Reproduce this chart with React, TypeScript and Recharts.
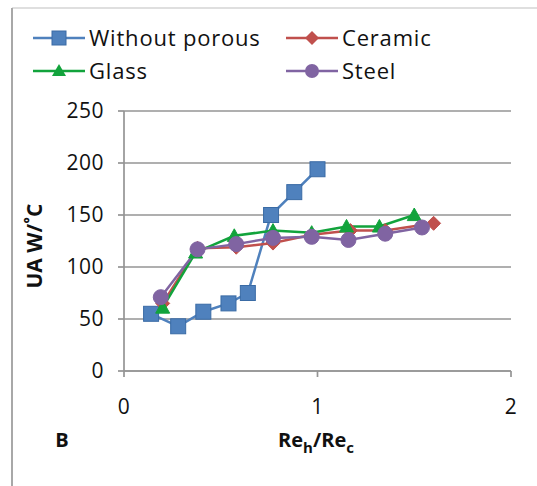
import React from "react";
import { LineChart, Line, XAxis, YAxis, CartesianGrid } from "recharts";

const seriesNames = ["Without porous", "Ceramic", "Glass", "Steel"];

const withoutX = [0.14, 0.28, 0.41, 0.54, 0.64, 0.76, 0.88, 1.0];
const withoutY = [55, 43, 57, 65, 75, 150, 172, 194];

const ceramicX = [0.2, 0.38, 0.58, 0.77, 0.97, 1.17, 1.35, 1.6];
const ceramicY = [65, 118, 119, 123, 131, 135, 135, 142];

const glassX = [0.2, 0.37, 0.57, 0.77, 0.97, 1.15, 1.32, 1.5];
const glassY = [61, 114, 130, 135, 133, 139, 139, 150];

const steelX = [0.19, 0.38, 0.58, 0.77, 0.97, 1.16, 1.35, 1.54];
const steelY = [71, 117, 122, 128, 129, 126, 132, 138];

const xTicks = [0, 1, 2];
const yTicks = [0, 50, 100, 150, 200, 250];

const toData = (xs: number[], ys: number[]) => xs.map((x, i) => ({ x, y: ys[i] }));

const withoutData = toData(withoutX, withoutY);
const ceramicData = toData(ceramicX, ceramicY);
const glassData = toData(glassX, glassY);
const steelData = toData(steelX, steelY);

const BLUE = "#4F81BD";
const RED = "#C0504D";
const GREEN = "#12A33C";
const PURPLE = "#8064A2";

const FONT = "'Open Sans', sans-serif";
const TEXT = "#111";

const SquareDot = (p: any) => {
  const { cx, cy, index } = p;
  if (cx == null || cy == null) return <g key={index} />;
  return <rect key={index} x={cx - 7.5} y={cy - 7.5} width={15} height={15} fill={BLUE} stroke="#3A6BA5" strokeWidth={1} />;
};
const DiamondDot = (p: any) => {
  const { cx, cy, index } = p;
  if (cx == null || cy == null) return <g key={index} />;
  const s = 7;
  return <polygon key={index} points={`${cx},${cy - s} ${cx + s},${cy} ${cx},${cy + s} ${cx - s},${cy}`} fill={RED} stroke={RED} />;
};
const TriangleDot = (p: any) => {
  const { cx, cy, index } = p;
  if (cx == null || cy == null) return <g key={index} />;
  const s = 7;
  return <polygon key={index} points={`${cx},${cy - s} ${cx + s},${cy + s * 0.8} ${cx - s},${cy + s * 0.8}`} fill={GREEN} stroke={GREEN} />;
};
const CircleDot = (p: any) => {
  const { cx, cy, index } = p;
  if (cx == null || cy == null) return <g key={index} />;
  return <circle key={index} cx={cx} cy={cy} r={7.5} fill={PURPLE} stroke={PURPLE} />;
};

const legendItems = [
  { name: seriesNames[0], color: BLUE, shape: "square", x: 33, y: 38 },
  { name: seriesNames[1], color: RED, shape: "diamond", x: 286, y: 38 },
  { name: seriesNames[2], color: GREEN, shape: "triangle", x: 33, y: 71 },
  { name: seriesNames[3], color: PURPLE, shape: "circle", x: 286, y: 71 },
];

const LegendMarker = ({ shape, color, cx, cy }: any) => {
  if (shape === "square") return <rect x={cx - 7} y={cy - 7} width={14} height={14} fill={color} stroke="#3A6BA5" />;
  if (shape === "diamond") return <polygon points={`${cx},${cy - 7} ${cx + 7},${cy} ${cx},${cy + 7} ${cx - 7},${cy}`} fill={color} />;
  if (shape === "triangle") return <polygon points={`${cx},${cy - 7} ${cx + 7},${cy + 5} ${cx - 7},${cy + 5}`} fill={color} />;
  return <circle cx={cx} cy={cy} r={7} fill={color} />;
};

export default function App() {
  return (
    <div style={{ position: "absolute", left: 0, top: 0, width: 537, height: 486, background: "#fff" }}>
      <LineChart
        width={537}
        height={486}
        margin={{ top: 111, right: 26, bottom: 75, left: 64 }}
      >
        <CartesianGrid vertical={false} stroke="#949494" strokeWidth={1.7} />
        <XAxis
          type="number"
          dataKey="x"
          domain={[0, 2]}
          ticks={xTicks}
          height={40}
          stroke="#949494"
          strokeWidth={1.7}
          tickSize={6}
          tickMargin={22}
          tick={{ fill: TEXT, fontSize: 21, fontFamily: FONT, letterSpacing: 0.5 }}
          allowDuplicatedCategory={false}
        />
        <YAxis
          type="number"
          dataKey="y"
          domain={[0, 250]}
          ticks={yTicks}
          width={60}
          stroke="#949494"
          strokeWidth={1.7}
          tickSize={6}
          tickMargin={14}
          tick={{ fill: TEXT, fontSize: 21, fontFamily: FONT, letterSpacing: 0.5 }}
        />
        <Line data={withoutData} dataKey="y" stroke={BLUE} strokeWidth={2.5} dot={SquareDot} isAnimationActive={false} />
        <Line data={ceramicData} dataKey="y" stroke={RED} strokeWidth={2.5} dot={DiamondDot} isAnimationActive={false} />
        <Line data={glassData} dataKey="y" stroke={GREEN} strokeWidth={2.5} dot={TriangleDot} isAnimationActive={false} />
        <Line data={steelData} dataKey="y" stroke={PURPLE} strokeWidth={2.5} dot={CircleDot} isAnimationActive={false} />
      </LineChart>
      <svg width={537} height={486} style={{ position: "absolute", left: 0, top: 0, pointerEvents: "none" }}>
        <line x1={12} y1={8} x2={537} y2={8} stroke="#d4d4d4" strokeWidth={1.5} />
        <line x1={12} y1={8} x2={12} y2={486} stroke="#a8a8a8" strokeWidth={2} />
        {legendItems.map((it) => (
          <g key={it.name}>
            <line x1={it.x} y1={it.y} x2={it.x + 52} y2={it.y} stroke={it.color} strokeWidth={2.5} />
            <LegendMarker shape={it.shape} color={it.color} cx={it.x + 26} cy={it.y} />
            <text x={it.x + 56} y={it.y} dy="0.36em" fontSize={22} letterSpacing={0.8} fontFamily={FONT} fill={TEXT}>
              {it.name}
            </text>
          </g>
        ))}
        <text
          x={34}
          y={246}
          transform="rotate(-90 34 246)"
          textAnchor="middle"
          dy="0.36em"
          fontSize={21}
          fontWeight="bold"
          fontFamily={FONT}
          fill={TEXT}
        >
          UA W/˚C
        </text>
        <text x={62} y={440} textAnchor="middle" dy="0.36em" fontSize={20} fontWeight="bold" fontFamily={FONT} fill={TEXT}>
          B
        </text>
        <text x={316} y={440} textAnchor="middle" dy="0.36em" fontSize={20} fontWeight="bold" fontFamily={FONT} fill={TEXT}>
          Re
          <tspan fontSize={15} dy="6">h</tspan>
          <tspan dy="-6">/Re</tspan>
          <tspan fontSize={15} dy="6">c</tspan>
        </text>
      </svg>
    </div>
  );
}
